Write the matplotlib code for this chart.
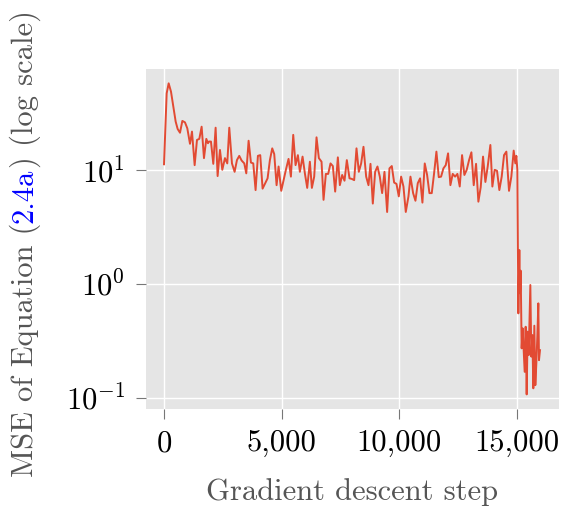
import matplotlib
matplotlib.use("Agg")
import math
import matplotlib.pyplot as plt
from matplotlib.ticker import FuncFormatter, FixedLocator, NullLocator

steps = [0, 113, 198, 297, 397, 496, 580, 680, 780, 892, 991, 1105, 1190, 1303, 1402,
         1501, 1600, 1700, 1799, 1870, 1912, 1997, 2096, 2195, 2280, 2380, 2479, 2592,
         2691, 2776, 2890, 3003, 3102, 3201, 3300, 3414, 3499, 3598, 3697, 3796, 3895,
         3994, 4093, 4193, 4306, 4405, 4504, 4603, 4688, 4788, 4873, 4986, 5085, 5184,
         5297, 5397, 5496, 5595, 5694, 5779, 5893, 5992, 6091, 6204, 6289, 6388, 6487,
         6586, 6700, 6785, 6884, 6983, 7082, 7181, 7280, 7394, 7479, 7578, 7677, 7776,
         7890, 7989, 8088, 8187, 8286, 8385, 8484, 8598, 8697, 8782, 8881, 8980, 9079,
         9178, 9278, 9377, 9490, 9589, 9688, 9788, 9887, 9986, 10085, 10184, 10283,
         10397, 10482, 10595, 10694, 10793, 10892, 10991, 11090, 11190, 11289, 11388,
         11487, 11586, 11686, 11785, 11884, 11983, 12082, 12181, 12280, 12380, 12479,
         12578, 12677, 12776, 12875, 12975, 13074, 13173, 13272, 13371, 13470, 13569,
         13669, 13768, 13881, 13966, 14065, 14164, 14263, 14363, 14462, 14561, 14674,
         14773, 14873, 14943, 14986, 15028, 15071, 15113, 15142, 15170, 15212, 15255,
         15297, 15340, 15382, 15425, 15467, 15510, 15581, 15623, 15666, 15708, 15751,
         15793, 15836, 15878, 15921, 15949, 15992]

mse = [11.3, 47.5, 58.2, 49.2, 36.3, 26.8, 23.1, 21.4, 27.2, 26.4, 23.4, 17.1, 21.9, 11.1,
       18.5, 18.9, 24.2, 12.8, 18.9, 17.3, 17.9, 17.9, 11.4, 23.7, 8.9, 15.1, 10.1, 12.8,
       11.5, 23.7, 11.5, 9.7, 12.3, 13.4, 12.2, 11.5, 9.4, 18.2, 11.7, 11.5, 6.7, 13.4,
       13.6, 6.9, 7.7, 8.5, 12.3, 15.6, 13.9, 7.4, 10.8, 6.6, 8.2, 10.1, 12.6, 8.8, 20.5,
       11.1, 13.6, 9.7, 13.2, 9.4, 7.0, 11.9, 7.0, 8.8, 19.5, 12.8, 11.9, 5.5, 9.3, 9.3,
       11.5, 10.9, 6.5, 13.0, 7.4, 9.1, 8.1, 12.3, 8.5, 8.4, 8.2, 15.6, 9.7, 11.5, 16.1,
       8.8, 7.4, 11.4, 5.1, 9.7, 10.8, 8.8, 6.3, 9.7, 4.3, 10.4, 10.9, 7.8, 7.6, 5.9, 8.8,
       7.2, 4.3, 5.9, 8.8, 6.3, 5.4, 7.7, 8.5, 5.2, 11.5, 9.1, 6.3, 6.3, 9.4, 14.6, 8.7,
       8.8, 10.4, 11.1, 14.1, 7.4, 9.3, 8.8, 9.3, 7.2, 13.6, 9.1, 10.1, 12.3, 14.4, 7.4,
       11.4, 5.3, 7.1, 13.2, 7.9, 10.8, 16.7, 7.2, 10.1, 9.9, 6.7, 8.8, 13.6, 14.6, 6.6,
       8.8, 14.9, 11.5, 13.4, 10.1, 0.552, 1.99, 0.83, 1.31, 0.272, 0.407, 0.262, 0.169,
       0.421, 0.107, 0.381, 0.237, 0.98, 0.23, 0.356, 0.121, 0.43, 0.129, 0.2, 0.344,
       0.676, 0.214, 0.262]

x_ticks = [0, 5000, 10000, 15000]
y_ticks = [0.1, 1, 10]
xlabel = "Gradient descent step"
ylabel_parts = ["MSE of Equation (", "2.4a", ") (log scale)"]
ylabel_colors = ["#555555", "blue", "#555555"]

plt.style.use("ggplot")
plt.rcParams["font.family"] = "cmr10"
plt.rcParams["mathtext.fontset"] = "cm"
plt.rcParams["axes.formatter.use_mathtext"] = True
plt.rcParams["axes.unicode_minus"] = False

W, H = 561, 513
fig = plt.figure(figsize=(W / 100, H / 100), dpi=100)
ax = fig.add_axes([146 / W, 1 - 409 / H, (559 - 146) / W, (409 - 69) / H])
ax.set_facecolor("#E5E5E5")
ax.plot(steps, mse, color="#E24A33", lw=1.4)
ax.set_yscale("log")
ax.set_xlim(-766, 16800)
ax.set_ylim(0.0796, 77.8)
ax.xaxis.set_major_locator(FixedLocator(x_ticks))
ax.yaxis.set_major_locator(FixedLocator(y_ticks))
ax.yaxis.set_minor_locator(NullLocator())
ax.xaxis.set_major_formatter(FuncFormatter(lambda v, p: f"{int(v):,}"))
ax.yaxis.set_major_formatter(FuncFormatter(
    lambda v, p: r"$\mathdefault{10^{%d}}$" % round(math.log10(v))))
ax.grid(True, color="white", lw=1.0)
for s in ax.spines.values():
    s.set_visible(False)
ax.tick_params(axis="both", direction="out", length=7, width=0.8, color="#777777",
               labelcolor="black", labelsize=22, pad=8)
ax.set_xlabel(xlabel, fontsize=22, color="#555555", labelpad=15)

fig.canvas.draw()
renderer = fig.canvas.get_renderer()
xpix, ypix = 33, 36
for part, col in zip(ylabel_parts, ylabel_colors):
    t = fig.text(xpix / W, ypix / H, part, rotation=90, rotation_mode="anchor",
                 ha="left", va="baseline", fontsize=22, color=col)
    bb = t.get_window_extent(renderer)
    ypix += bb.height

fig.savefig("out.png", dpi=100)
